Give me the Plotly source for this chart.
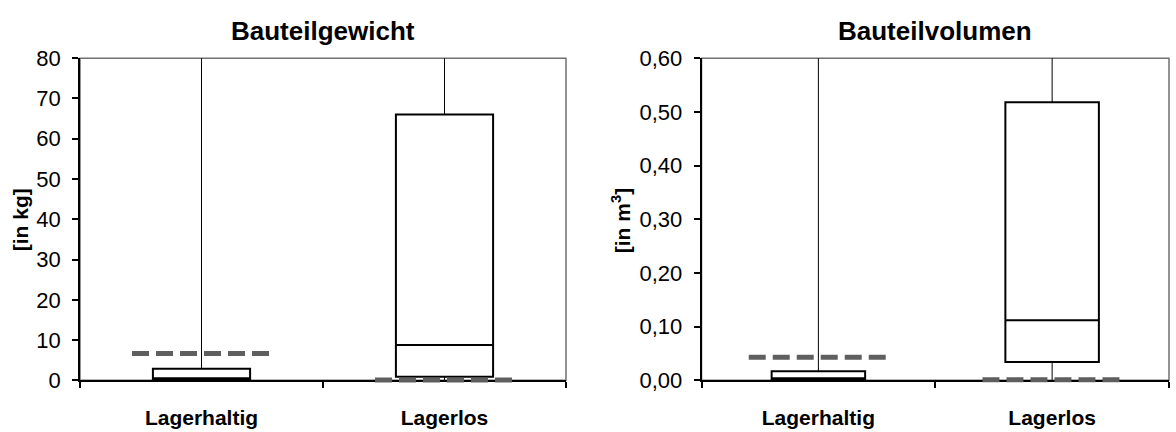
import plotly.graph_objects as go

# Categories and box statistics
categories = ["Lagerhaltig", "Lagerlos"]

# Bauteilgewicht [kg]
weight_min = [0.0, 0.0]
weight_q1 = [0.3, 0.9]
weight_median = [0.5, 8.8]
weight_q3 = [2.9, 66.0]
weight_max = [95.0, 95.0]
weight_ref = [6.7, 0.1]

# Bauteilvolumen [m³]
volume_min = [0.0, 0.0]
volume_q1 = [0.002, 0.034]
volume_median = [0.004, 0.112]
volume_q3 = [0.017, 0.518]
volume_max = [0.7, 0.7]
volume_ref = [0.043, 0.001]

weight_ticks = [0, 10, 20, 30, 40, 50, 60, 70, 80]
volume_ticks = [0.0, 0.1, 0.2, 0.3, 0.4, 0.5, 0.6]

FONT = "Liberation Sans, Arial, sans-serif"
REF_COLOR = "#5f5f5f"
FRAME_COLOR = "#707070"
W, H = 1176, 432

# plot-area geometry in pixels
PLOT_TOP, PLOT_BOTTOM = 49, 391
ydom = [1 - PLOT_BOTTOM / H, 1 - PLOT_TOP / H]
xdom1 = [80 / W, 566 / W]
xdom2 = [701.5 / W, 1169 / W]
PAD_PX = 6  # lets the dashed levels sit on the x-axis without being clipped

fig = go.Figure()


def add_panel(xa, ya, ya_ref, q1, med, q3, lo, hi, ref, ref_half):
    xs = list(range(len(categories)))
    # whiskers (thin)
    wx, wy = [], []
    for i in xs:
        wx += [i, i, None, i, i, None]
        wy += [q3[i], hi[i], None, lo[i], q1[i], None]
    fig.add_trace(go.Scatter(
        x=wx, y=wy, mode="lines", xaxis=xa, yaxis=ya,
        line=dict(color="black", width=1), showlegend=False, hoverinfo="skip"))
    # boxes
    fig.add_trace(go.Box(
        x=xs, q1=q1, median=med, q3=q3, lowerfence=q1, upperfence=q3,
        width=0.4, whiskerwidth=0, boxpoints=False,
        fillcolor="white", line=dict(color="black", width=2),
        xaxis=xa, yaxis=ya, showlegend=False, hoverinfo="skip"))
    # dashed reference levels
    rx, ry = [], []
    for i in xs:
        rx += [i - ref_half, i + ref_half, None]
        ry += [ref[i], ref[i], None]
    fig.add_trace(go.Scatter(
        x=rx, y=ry, mode="lines", xaxis=xa, yaxis=ya_ref,
        line=dict(color=REF_COLOR, width=5, dash="17px,7px"),
        showlegend=False, hoverinfo="skip"))


add_panel("x", "y", "y3", weight_q1, weight_median, weight_q3,
          weight_min, weight_max, weight_ref, 0.286)
add_panel("x2", "y2", "y4", volume_q1, volume_median, volume_q3,
          volume_min, volume_max, volume_ref, 0.298)

xcommon = dict(
    range=[-0.5, 1.5], tickvals=[0, 1], ticktext=categories, ticks="",
    minor=dict(tickvals=[-0.5, 0.5, 1.5], ticks="outside", ticklen=6,
               tickcolor="black", tickwidth=1.5),
    showline=True, linecolor="black", linewidth=1.5, showgrid=False,
    zeroline=False, ticklabelstandoff=18,
    tickfont=dict(family=FONT, size=21, color="black", weight="bold"),
)
ycommon = dict(
    ticks="outside", ticklen=6, tickcolor="black", tickwidth=1.5,
    showline=True, linecolor="black", linewidth=1.5, showgrid=False,
    zeroline=False, ticklabelstandoff=7,
    tickfont=dict(family=FONT, size=22, color="black"),
)
plot_h = PLOT_BOTTOM - PLOT_TOP
ref_dom = [ydom[0] - PAD_PX / H, ydom[1]]


def ref_axis(anchor, top):
    return dict(domain=ref_dom, anchor=anchor, visible=False,
                range=[-PAD_PX * top / plot_h, top], showgrid=False,
                zeroline=False)


fig.update_layout(
    width=W, height=H,
    margin=dict(l=0, r=0, t=0, b=0),
    paper_bgcolor="white", plot_bgcolor="rgba(0,0,0,0)",
    separators=",.",
    xaxis=dict(domain=xdom1, anchor="y", **xcommon),
    xaxis2=dict(domain=xdom2, anchor="y2", **xcommon),
    yaxis=dict(domain=ydom, anchor="x", range=[0, 80], tickvals=weight_ticks,
               **ycommon),
    yaxis2=dict(domain=ydom, anchor="x2", range=[0, 0.6],
                tickvals=volume_ticks, tickformat=".2f", **ycommon),
    yaxis3=ref_axis("x", 80),
    yaxis4=ref_axis("x2", 0.6),
)

# gray frame on top and right of each plot area
for xr, yr in [("x domain", "y domain"), ("x2 domain", "y2 domain")]:
    fig.add_shape(type="rect", xref=xr, yref=yr, x0=0, x1=1, y0=0, y1=1,
                  line=dict(color=FRAME_COLOR, width=1.5), layer="below")

title_font = dict(family=FONT, size=26, color="black", weight="bold")
label_font = dict(family=FONT, size=21, color="black", weight="bold")
fig.add_annotation(text="Bauteilgewicht", xref="paper", yref="paper",
                   x=323 / W, y=1 - 20 / H, showarrow=False,
                   xanchor="center", yanchor="middle", font=title_font)
fig.add_annotation(text="Bauteilvolumen", xref="paper", yref="paper",
                   x=935 / W, y=1 - 20 / H, showarrow=False,
                   xanchor="center", yanchor="middle", font=title_font)
fig.add_annotation(text="[in kg]", xref="paper", yref="paper",
                   x=20 / W, y=1 - 221 / H, showarrow=False, textangle=-90,
                   xanchor="center", yanchor="middle", font=label_font)
fig.add_annotation(text="[in m<sup>3</sup>]", xref="paper", yref="paper",
                   x=621 / W, y=1 - 221 / H, showarrow=False, textangle=-90,
                   xanchor="center", yanchor="middle", font=label_font)

fig.write_html("out.html")
